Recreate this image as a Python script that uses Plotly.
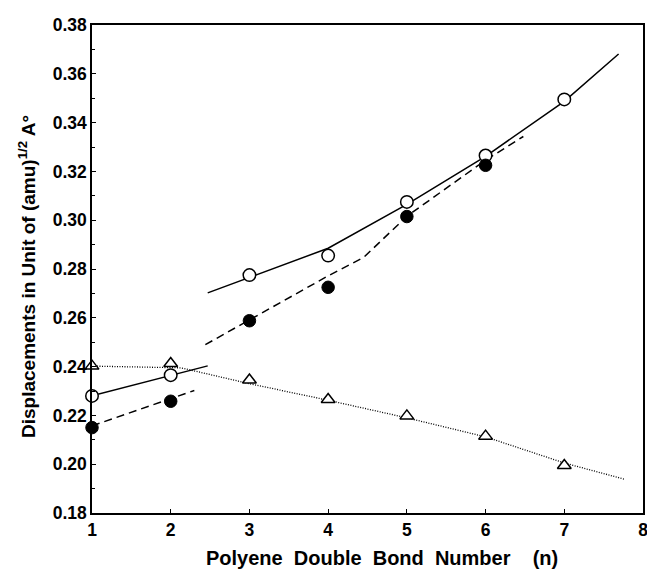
import plotly.graph_objects as go

# ---- data ----
n_open = [1, 2, 3, 4, 5, 6, 7]
open_vals = [0.2280, 0.2365, 0.2775, 0.2855, 0.3075, 0.3265, 0.3495]

n_filled = [1, 2, 3, 4, 5, 6]
filled_vals = [0.2150, 0.2258, 0.2588, 0.2725, 0.3015, 0.3225]

n_tri = [1, 2, 3, 4, 5, 6, 7]
tri_vals = [0.2402, 0.2413, 0.2345, 0.2265, 0.2198, 0.2115, 0.1995]

# fitted curves
solid1_x = [1.0, 2.47]
solid1_y = [0.2280, 0.2403]
solid2_x = [2.47, 4.0, 5.0, 6.0, 7.0, 7.69]
solid2_y = [0.2702, 0.2885, 0.3065, 0.3262, 0.3487, 0.3681]

dashed1_x = [1.0, 2.30]
dashed1_y = [0.2157, 0.2302]
dashed2_x = [2.44, 4.0, 4.45, 5.0, 6.0, 6.48]
dashed2_y = [0.2490, 0.2772, 0.2847, 0.3016, 0.3246, 0.3343]

dotted_x = [1.0, 2.13, 3.0, 4.0, 5.0, 6.0, 7.0, 7.77]
dotted_y = [0.2402, 0.2395, 0.2330, 0.2262, 0.2190, 0.2112, 0.2005, 0.1938]

x_ticks = [1, 2, 3, 4, 5, 6, 7, 8]
y_ticks = [0.18, 0.20, 0.22, 0.24, 0.26, 0.28, 0.30, 0.32, 0.34, 0.36, 0.38]

x_title = "Polyene&nbsp; Double&nbsp; Bond&nbsp; Number&nbsp;&nbsp;&nbsp; (n)"
y_title = "Displacements in Unit of (amu)<sup>1/2</sup> A°"

FONT = "Liberation Sans, Arial, Helvetica, sans-serif"

# the page body has an 8px default margin, so the figure is sized to fit
W, H = 647, 561
ML, MR, MT, MB = 84, 7, 12, 56
PW, PH = W - ML - MR, H - MT - MB

fig = go.Figure()

def line(xs, ys, dash, width=1.5):
    fig.add_trace(go.Scatter(x=xs, y=ys, mode="lines",
                             line=dict(color="black", width=width, dash=dash),
                             showlegend=False, hoverinfo="skip"))

line(solid1_x, solid1_y, "solid")
line(solid2_x, solid2_y, "solid")
line(dashed1_x, dashed1_y, "8px,5px")
line(dashed2_x, dashed2_y, "8px,5px")
line(dotted_x, dotted_y, "1px,1.5px", width=1.3)

fig.add_trace(go.Scatter(x=n_tri, y=tri_vals, mode="markers", cliponaxis=False,
                         marker=dict(symbol="triangle-up", size=12, color="white",
                                     line=dict(color="black", width=1.5)),
                         showlegend=False))
fig.add_trace(go.Scatter(x=n_open, y=open_vals, mode="markers", cliponaxis=False,
                         marker=dict(symbol="circle", size=12.5, color="white",
                                     line=dict(color="black", width=1.5)),
                         showlegend=False))
fig.add_trace(go.Scatter(x=n_filled, y=filled_vals, mode="markers", cliponaxis=False,
                         marker=dict(symbol="circle", size=12.5, color="black",
                                     line=dict(color="black", width=1)),
                         showlegend=False))

fig.update_layout(
    width=W, height=H,
    margin=dict(l=ML, r=MR, t=MT, b=MB),
    paper_bgcolor="white", plot_bgcolor="white",
    font=dict(family=FONT, color="black"),
)

fig.update_xaxes(
    range=[1, 8], tickvals=x_ticks, ticktext=[str(v) for v in x_ticks],
    showgrid=False, zeroline=False,
    showline=True, linecolor="black", linewidth=1.5, mirror=True,
    ticks="inside", ticklen=4, tickwidth=1, tickcolor="black",
    ticklabeloverflow="allow",
    tickfont=dict(family=FONT, size=17.5, weight="bold"),
)
fig.update_yaxes(
    range=[0.18, 0.38], tickvals=y_ticks, ticktext=["%.2f" % v for v in y_ticks],
    showgrid=False, zeroline=False,
    showline=True, linecolor="black", linewidth=1.5, mirror=True,
    ticks="inside", ticklen=4, tickwidth=1, tickcolor="black",
    minor=dict(dtick=0.01, ticks="inside", ticklen=3, tickcolor="black", tickwidth=1, showgrid=False),
    tickfont=dict(family=FONT, size=17.5, weight="bold"),
)

# axis titles as annotations placed where the reference has them
fig.add_annotation(text=x_title, xref="paper", yref="paper",
                   x=(377 - ML) / PW, y=-(550 - (MT + PH)) / PH,
                   xanchor="center", yanchor="middle", showarrow=False,
                   font=dict(family=FONT, size=20, weight="bold", color="black"))
fig.add_annotation(text=y_title, xref="paper", yref="paper",
                   x=(19 - ML) / PW, y=((MT + PH) - 266) / PH,
                   xanchor="center", yanchor="middle", showarrow=False, textangle=-90,
                   font=dict(family=FONT, size=19, weight="bold", color="black"))

fig.write_html("out.html")
